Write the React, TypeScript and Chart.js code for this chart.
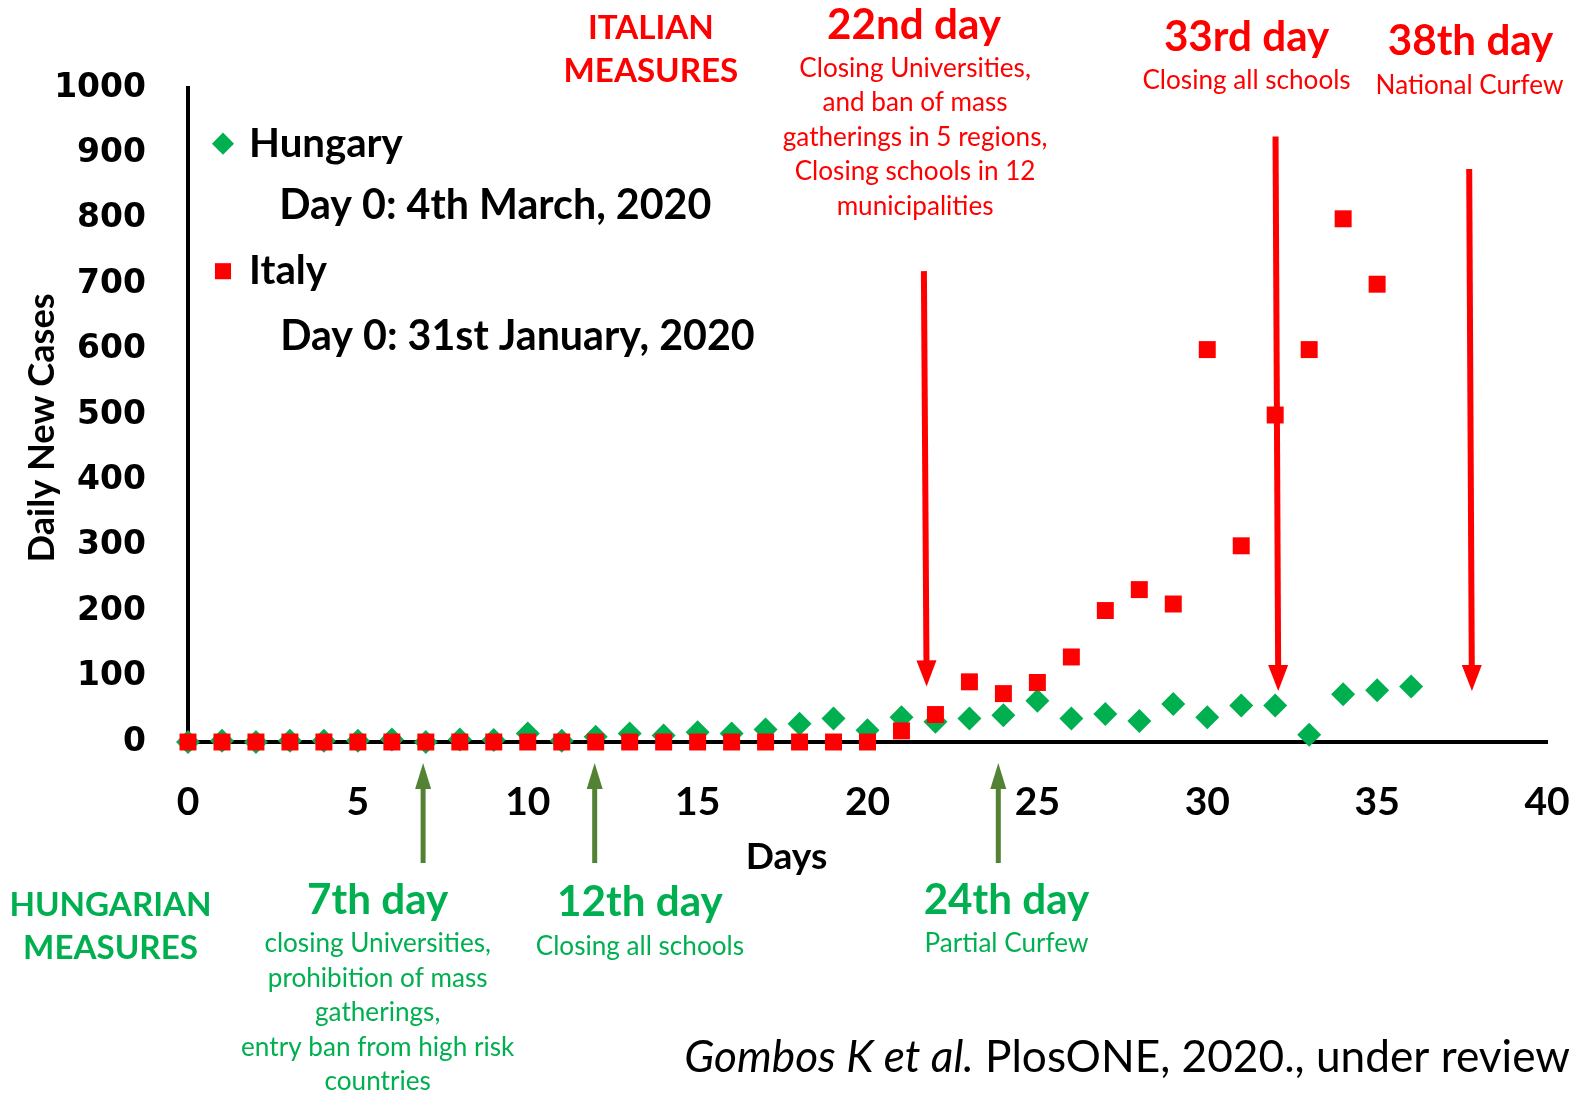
import React, { useEffect, useRef } from 'react';
import { Chart, registerables } from 'chart.js';

Chart.register(...registerables);

// ---------- data ----------
const hungaryDays = [0, 1, 2, 3, 4, 5, 6, 7, 8, 9, 10, 11, 12, 13, 14, 15, 16, 17, 18, 19, 20, 21, 22, 23, 24, 25, 26, 27, 28, 29, 30, 31, 32, 33, 34, 35, 36];
const hungaryCases = [0, 2, 0, 2, 2, 2, 4, 0, 4, 3, 13, 2, 8, 13, 10, 15, 13, 19, 28, 36, 18, 38, 31, 36, 41, 63, 36, 43, 32, 58, 38, 56, 56, 11, 73, 79, 85];

const italyDays = [0, 1, 2, 3, 4, 5, 6, 7, 8, 9, 10, 11, 12, 13, 14, 15, 16, 17, 18, 19, 20, 21, 22, 23, 24, 25, 26, 27, 28, 29, 30, 31, 32, 33, 34, 35];
const italyCases = [0, 0, 0, 0, 0, 0, 0, 0, 0, 0, 0, 0, 0, 0, 0, 0, 0, 0, 0, 0, 0, 17, 42, 92, 74, 91, 130, 201, 233, 211, 600, 300, 500, 600, 800, 700];

const xTickStep = 5;
const yTickStep = 100;
const xMax = 40;
const yMax = 1000;

// measure arrows (in chart units: day, cases)
const italianArrowDays = [21.7, 32.05, 37.75];
const italianArrowTops = [720, 926, 876];
const italianArrowTips = [85, 78, 78];
const hungarianArrowDays = [6.92, 11.97, 23.85];
const hungarianArrowBottoms = [-185, -185, -185];
const hungarianArrowTips = [-32, -32, -32];

// ---------- style ----------
const RED = '#FF0000';
const GREEN = '#00B050';
const OLIVE = '#548235';
const FONT = 'Lato';
const K = 1575 / 1568; // annotation layout was measured on a 1568-wide view

type Txt = { t: string; x: number; y: number; c: string; s: number; b?: boolean; a?: CanvasTextAlign };

const texts: Txt[] = [
  { t: 'ITALIAN', x: 648, y: 28, c: RED, s: 33, b: true },
  { t: 'MEASURES', x: 648, y: 71, c: RED, s: 33, b: true },
  { t: '22nd day', x: 910, y: 25, c: RED, s: 42, b: true },
  { t: 'Closing Universities,', x: 911, y: 68, c: RED, s: 26 },
  { t: 'and ban of mass', x: 911, y: 102, c: RED, s: 26 },
  { t: 'gatherings in 5 regions,', x: 911, y: 137, c: RED, s: 26 },
  { t: 'Closing schools in 12', x: 911, y: 171, c: RED, s: 26 },
  { t: 'municipalities', x: 911, y: 206, c: RED, s: 26 },
  { t: '33rd day', x: 1241, y: 37, c: RED, s: 42, b: true },
  { t: 'Closing all schools', x: 1241, y: 80, c: RED, s: 26 },
  { t: '38th day', x: 1464, y: 41, c: RED, s: 42, b: true },
  { t: 'National Curfew', x: 1463, y: 85, c: RED, s: 26 },

  { t: 'HUNGARIAN', x: 110, y: 901, c: GREEN, s: 33, b: true },
  { t: 'MEASURES', x: 110, y: 944, c: GREEN, s: 33, b: true },
  { t: '7th day', x: 376, y: 896, c: GREEN, s: 42, b: true },
  { t: 'closing Universities,', x: 376, y: 939, c: GREEN, s: 26 },
  { t: 'prohibition of mass', x: 376, y: 974, c: GREEN, s: 26 },
  { t: 'gatherings,', x: 376, y: 1008, c: GREEN, s: 26 },
  { t: 'entry ban from high risk', x: 376, y: 1043, c: GREEN, s: 26 },
  { t: 'countries', x: 376, y: 1077, c: GREEN, s: 26 },
  { t: '12th day', x: 637, y: 898, c: GREEN, s: 42, b: true },
  { t: 'Closing all schools', x: 637, y: 942, c: GREEN, s: 26 },
  { t: '24th day', x: 1002, y: 896, c: GREEN, s: 42, b: true },
  { t: 'Partial Curfew', x: 1002, y: 939, c: GREEN, s: 26 },

  { t: 'Days', x: 783, y: 853, c: '#000', s: 37, b: true },
  { t: 'Hungary', x: 248, y: 143, c: '#000', s: 40, b: true, a: 'left' },
  { t: 'Day 0: 4th March, 2020', x: 278, y: 205, c: '#000', s: 41, b: true, a: 'left' },
  { t: 'Italy', x: 248, y: 270, c: '#000', s: 40, b: true, a: 'left' },
  { t: 'Day 0: 31st January, 2020', x: 279, y: 335, c: '#000', s: 41, b: true, a: 'left' },
];

function drawArrow(ctx: CanvasRenderingContext2D, x1: number, y1: number, x2: number, y2: number, color: string, w: number, hw: number, hl: number) {
  const dx = x2 - x1;
  const dy = y2 - y1;
  const len = Math.hypot(dx, dy);
  const ux = dx / len;
  const uy = dy / len;
  const bx = x2 - ux * hl;
  const by = y2 - uy * hl;
  ctx.save();
  ctx.strokeStyle = color;
  ctx.fillStyle = color;
  ctx.lineWidth = w;
  ctx.lineCap = 'butt';
  ctx.beginPath();
  ctx.moveTo(x1, y1);
  ctx.lineTo(bx + ux * 1, by + uy * 1);
  ctx.stroke();
  ctx.beginPath();
  ctx.moveTo(x2, y2);
  ctx.lineTo(bx - uy * hw / 2, by + ux * hw / 2);
  ctx.lineTo(bx + uy * hw / 2, by - ux * hw / 2);
  ctx.closePath();
  ctx.fill();
  ctx.restore();
}

const annotationPlugin = {
  id: 'measureAnnotations',
  afterDatasetsDraw(chart: any) {
    const { ctx } = chart;
    const xs = chart.scales.x;
    const ys = chart.scales.y;
    italianArrowDays.forEach((d, i) => {
      drawArrow(ctx, xs.getPixelForValue(d - 0.04), ys.getPixelForValue(italianArrowTops[i]), xs.getPixelForValue(d + 0.04), ys.getPixelForValue(italianArrowTips[i]), RED, 6, 20, 26);
    });
    hungarianArrowDays.forEach((d, i) => {
      drawArrow(ctx, xs.getPixelForValue(d), ys.getPixelForValue(hungarianArrowBottoms[i]), xs.getPixelForValue(d), ys.getPixelForValue(hungarianArrowTips[i]), OLIVE, 5, 16, 26);
    });

    ctx.save();
    ctx.scale(K, K);
    ctx.textBaseline = 'middle';
    texts.forEach((tx) => {
      ctx.font = `${tx.b ? 'bold ' : ''}${tx.s}px ${FONT}`;
      ctx.fillStyle = tx.c;
      ctx.textAlign = tx.a || 'center';
      ctx.fillText(tx.t, tx.x, tx.y);
    });

    // y axis title
    ctx.save();
    ctx.translate(42, 426);
    ctx.rotate(-Math.PI / 2);
    ctx.font = `bold 36px ${FONT}`;
    ctx.fillStyle = '#000';
    ctx.textAlign = 'center';
    ctx.fillText('Daily New Cases', 0, 0);
    ctx.restore();

    // legend markers
    ctx.fillStyle = GREEN;
    ctx.beginPath();
    ctx.moveTo(222, 132);
    ctx.lineTo(233, 143);
    ctx.lineTo(222, 154);
    ctx.lineTo(211, 143);
    ctx.closePath();
    ctx.fill();
    ctx.fillStyle = RED;
    ctx.fillRect(214, 262, 16, 16);

    // citation
    const rest = ' PlosONE, 2020., under review';
    ctx.fillStyle = '#000';
    ctx.textAlign = 'right';
    ctx.font = `44px ${FONT}`;
    ctx.fillText(rest, 1563, 1053);
    const rw = ctx.measureText(rest).width;
    ctx.font = `italic 44px ${FONT}`;
    ctx.fillText('Gombos K et al.', 1563 - rw, 1053);
    ctx.restore();
  },
};

export default function App() {
  const ref = useRef<HTMLCanvasElement | null>(null);
  useEffect(() => {
    document.body.style.margin = '0';
    document.body.style.overflow = 'hidden';
    const canvas = ref.current;
    if (!canvas) return;
    const chart = new Chart(canvas, {
      type: 'scatter',
      data: {
        datasets: [
          {
            label: 'Italy',
            data: italyDays.map((d, i) => ({ x: d, y: italyCases[i] })),
            pointStyle: 'rect',
            pointRadius: 12,
            pointHoverRadius: 12,
            backgroundColor: RED,
            borderColor: RED,
            borderWidth: 0,
            clip: false,
            order: 0,
          },
          {
            label: 'Hungary',
            data: hungaryDays.map((d, i) => ({ x: d, y: hungaryCases[i] })),
            pointStyle: 'rectRot',
            pointRadius: 12,
            pointHoverRadius: 12,
            backgroundColor: GREEN,
            borderColor: GREEN,
            borderWidth: 0,
            clip: false,
            order: 1,
          },
        ],
      },
      options: {
        responsive: false,
        animation: false,
        devicePixelRatio: 1,
        layout: { padding: { top: 88, right: 28, left: 0, bottom: 0 } },
        plugins: { legend: { display: false }, tooltip: { enabled: false } },
        scales: {
          x: {
            type: 'linear',
            min: 0,
            max: xMax,
            grid: { display: false, drawTicks: false },
            border: { display: true, color: '#000', width: 4 },
            ticks: {
              stepSize: xTickStep,
              color: '#000',
              padding: 37,
              font: { family: FONT, size: 39, weight: 'bold' },
              callback: (v: any) => String(v),
            },
            afterFit: (s: any) => {
              s.height = 352;
              s.paddingLeft = 0;
              s.paddingRight = 0;
            },
          },
          y: {
            type: 'linear',
            min: 0,
            max: yMax,
            grid: { display: false, drawTicks: false },
            border: { display: true, color: '#000', width: 4 },
            ticks: {
              stepSize: yTickStep,
              color: '#000',
              padding: 42,
              font: { family: 'DejaVu Sans', size: 33, weight: 'bold' },
              callback: (v: any) => String(v),
            },
            afterFit: (s: any) => {
              s.width = 188;
              s.paddingTop = 0;
              s.paddingBottom = 0;
            },
          },
        },
      } as any,
      plugins: [annotationPlugin],
    });
    return () => chart.destroy();
  }, []);
  return (
    <div style={{ width: 1575, height: 1094, background: '#fff' }}>
      <canvas ref={ref} width={1575} height={1094} />
    </div>
  );
}
